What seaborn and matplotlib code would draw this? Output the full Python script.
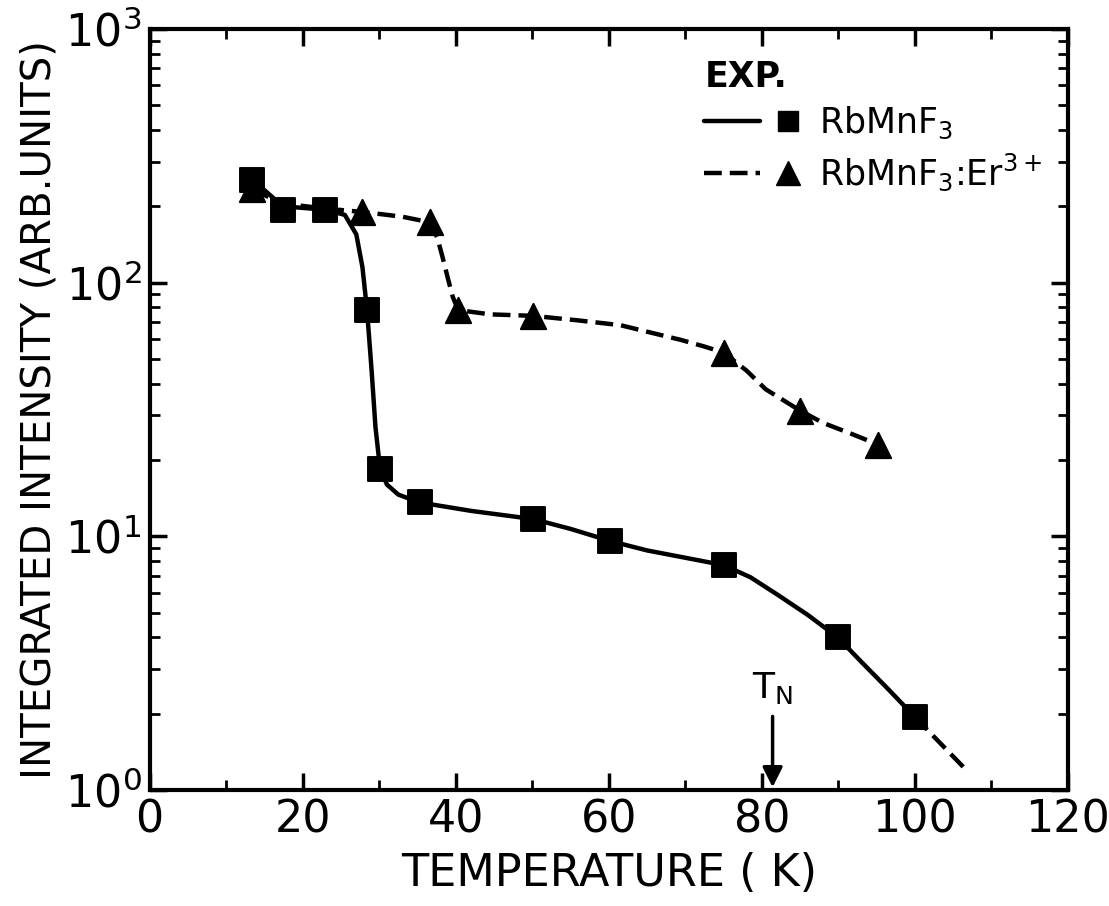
import numpy as np
import pandas as pd
import seaborn as sns
import matplotlib.pyplot as plt
import matplotlib.ticker as ticker
from matplotlib.lines import Line2D
from matplotlib.legend_handler import HandlerTuple

# measured points
T_pure = [13.4, 17.4, 22.9, 28.4, 30.1, 35.3, 50.1, 60.1, 75.0, 89.9, 100.0]
I_pure = [255, 194, 194, 78, 18.5, 13.6, 11.7, 9.6, 7.7, 4.0, 1.94]
T_er = [13.4, 27.8, 36.6, 40.3, 50.1, 75.0, 85.0, 95.2]
I_er = [233, 190, 173, 78, 74, 53, 31.3, 23]

# hand-drawn guide curves
T_pure_curve = [13.4, 17.4, 22.9, 25.5, 27.0, 27.8, 28.4, 29.0, 29.5, 30.1, 31.0, 32.5,
                35.3, 42.0, 50.1, 55.0, 60.1, 65.0, 69.4, 75.0, 78.5, 82.0, 86.0,
                89.9, 93.0, 96.5, 100.0]
I_pure_curve = [255, 200, 194, 185, 155, 115, 78, 45, 27, 18.5, 16.0, 14.6,
                13.6, 12.6, 11.7, 10.7, 9.6, 8.8, 8.3, 7.7, 6.9, 5.9, 4.9,
                4.0, 3.2, 2.5, 1.94]
T_pure_ext = [100.0, 106.7]
I_pure_ext = [1.94, 1.2]
T_er_curve = [13.4, 17.4, 22.9, 27.8, 33.0, 36.6, 37.6, 38.3, 39.0, 39.6, 40.3,
              44.5, 50.1, 56.0, 61.5, 66.0, 69.4, 72.5, 75.0, 78.0, 80.5, 85.0,
              88.0, 91.5, 95.2]
I_er_curve = [233, 205, 196, 190, 182, 173, 150, 125, 103, 88, 78,
              75, 74, 71, 68, 63, 59.5, 56, 53, 45, 38, 31.3,
              28, 25.5, 23]

T_N = 81.4

sns.set_style("ticks")
plt.rcParams['font.family'] = ['DejaVu Sans']
plt.rcParams['mathtext.fontset'] = 'dejavusans'
plt.rcParams['text.color'] = 'black'
plt.rcParams['axes.labelcolor'] = 'black'
plt.rcParams['xtick.color'] = 'black'
plt.rcParams['ytick.color'] = 'black'

fig = plt.figure(figsize=(11.09, 9.06), dpi=100)
ax = fig.add_axes([0.135, 0.128, 0.828, 0.840])

lw = 3.2
dash = [4, 1.8]
sns.lineplot(x=T_pure_curve, y=I_pure_curve, color="black", lw=lw, sort=False, ax=ax)
sns.lineplot(x=T_pure_ext, y=I_pure_ext, color="black", lw=lw, ax=ax)
ax.lines[-1].set_dashes(dash)
sns.lineplot(x=T_er_curve, y=I_er_curve, color="black", lw=lw, sort=False, ax=ax)
ax.lines[-1].set_dashes(dash)

sns.scatterplot(x=T_er, y=I_er, marker="^", s=330, color="black", edgecolor="black", ax=ax, zorder=3)
sns.scatterplot(x=T_pure, y=I_pure, marker="s", s=300, color="black", edgecolor="black", ax=ax, zorder=4)

ax.set_yscale("log")
ax.set_xlim(0, 120)
ax.set_ylim(1, 1000)

ax.xaxis.set_major_locator(ticker.MultipleLocator(20))
ax.xaxis.set_minor_locator(ticker.MultipleLocator(10))
ax.yaxis.set_major_locator(ticker.LogLocator(base=10))
ax.yaxis.set_minor_locator(ticker.LogLocator(base=10, subs=np.arange(2, 10)))
ax.yaxis.set_major_formatter(ticker.LogFormatterMathtext())
ax.yaxis.set_minor_formatter(ticker.NullFormatter())

ax.tick_params(axis='both', which='major', direction='in', length=12, width=2.5,
               top=True, right=True, labelsize=32, pad=6)
ax.tick_params(axis='both', which='minor', direction='in', length=7, width=2,
               top=True, right=True)
for s in ax.spines.values():
    s.set_linewidth(3)
    s.set_color("black")
    s.set_visible(True)

ax.set_xlabel("TEMPERATURE ( K)", fontsize=32, labelpad=8)
ax.set_ylabel("INTEGRATED INTENSITY (ARB.UNITS)", fontsize=29, labelpad=4)

ax.annotate("", xy=(T_N, 1.0), xytext=(T_N, 2.0),
            arrowprops=dict(arrowstyle="-|>", color="black", lw=2.5, mutation_scale=30))
ax.text(T_N, 2.15, r"T$_\mathregular{N}$", fontsize=26, ha="center", va="bottom")

h1 = (Line2D([], [], color="black", lw=lw), Line2D([], [], marker="s", ls="", color="black", ms=15))
h2 = (Line2D([], [], color="black", lw=lw, dashes=dash),
      Line2D([], [], marker="^", ls="", color="black", ms=17))
leg = ax.legend([h1, h2], [r"RbMnF$_3$", r"RbMnF$_3$:Er$^{3+}$"],
                handler_map={tuple: HandlerTuple(ndivide=None, pad=0.0)},
                title="EXP.", loc="upper left", bbox_to_anchor=(0.57, 1.0),
                frameon=False, fontsize=25, title_fontsize=25, handlelength=3.2,
                handletextpad=0.1, labelspacing=0.3, alignment="left")
leg.get_title().set_fontweight("bold")

plt.savefig("out.png", dpi=100)
